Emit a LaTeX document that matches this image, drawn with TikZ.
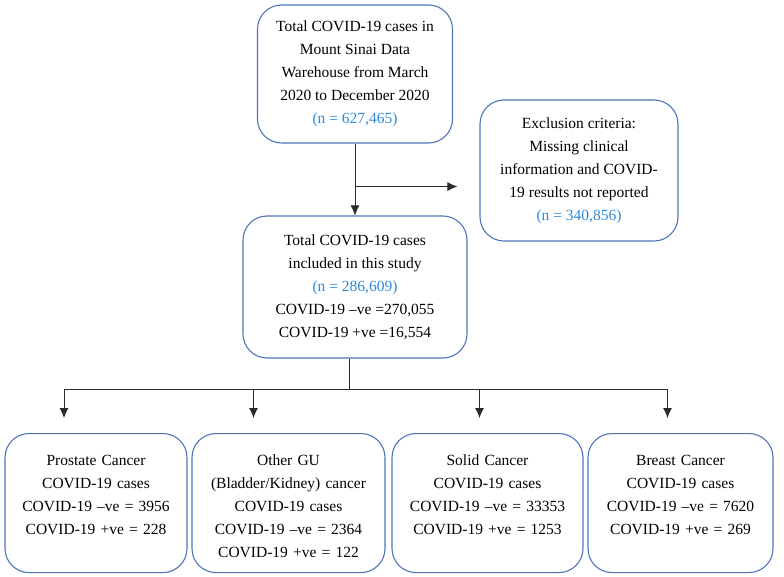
\documentclass[tikz,border=0pt]{standalone}
\usepackage{fontspec}
\setmainfont{Liberation Serif}
\usetikzlibrary{arrows.meta,positioning,calc}
\definecolor{boxblue}{HTML}{4F74B8}
\definecolor{nblue}{HTML}{2E8AD6}
\definecolor{dark}{HTML}{2A2A2A}
\tikzset{
  box/.style={draw=boxblue, rounded corners=24pt, line width=1.1pt, align=center, inner sep=4pt, font=\fontsize{15.5}{23}\selectfont},
  leafbox/.style={box, text height=22pt, text depth=97pt, inner ysep=10pt},
  line/.style={draw=dark, line width=0.9pt},
  arrow/.style={line, -{Latex[length=10pt, width=9pt]}}
}
\newcommand{\ncount}[1]{\textcolor{nblue}{(n = #1)}}

\begin{document}
\begin{tikzpicture}[x=1pt, y=-1pt]
  \useasboundingbox (0,0) rectangle (784,577);
  \node[box, minimum width=195pt, minimum height=138pt] (total) at (355,74) {Total COVID-19 cases in\\ Mount Sinai Data\\ Warehouse from March\\ 2020 to December 2020\\ \ncount{627,465}};
  \node[box, minimum width=198pt, minimum height=141pt] (excl) at (579,170.5) {Exclusion criteria:\\ Missing clinical\\ information and COVID-\\ 19 results not reported\\ \ncount{340,856}};
  \node[box, minimum width=224pt, minimum height=142pt] (study) at (355,287) {Total COVID-19 cases\\ included in this study\\ \ncount{286,609}\\ COVID-19 –ve =270,055\\ COVID-19 +ve =16,554};
  \node[leafbox, text width=174pt] (prostate) at (96,433) [anchor=north] {Prostate Cancer\\ COVID-19 cases\\ COVID-19 –ve = 3956\\ COVID-19 +ve = 228};
  \node[leafbox, text width=185pt] (othergu) at (288.5,433) [anchor=north] {Other GU\\ (Bladder/Kidney) cancer\\ COVID-19 cases\\ COVID-19 –ve = 2364\\ COVID-19 +ve = 122};
  \node[leafbox, text width=183pt] (solid) at (487.5,433) [anchor=north] {Solid Cancer\\ COVID-19 cases\\ COVID-19 –ve = 33353\\ COVID-19 +ve = 1253};
  \node[leafbox, text width=177pt] (breast) at (680.5,433) [anchor=north] {Breast Cancer\\ COVID-19 cases\\ COVID-19 –ve = 7620\\ COVID-19 +ve = 269};
  % top to study, with the exclusion branch
  \coordinate (branch) at ($(total.south)+(0,43)$);
  \draw[arrow] (total.south) -- (study.north);
  \draw[arrow, shorten >=22pt] (branch) -- (branch -| excl.west);
  % study to the four cancer groups
  \coordinate (split) at ($(study.south)+(-6,31)$);
  \coordinate (pr) at ([xshift=-32pt]prostate.north);
  \coordinate (gu) at ([xshift=-35pt]othergu.north);
  \coordinate (so) at ([xshift=-8pt]solid.north);
  \coordinate (br) at ([xshift=-13pt]breast.north);
  \draw[line] (split |- study.south) -- (split);
  \draw[line] (pr |- split) -- (br |- split);
  \draw[arrow, shorten >=15pt] (pr |- split) -- (pr);
  \draw[arrow, shorten >=15pt] (gu |- split) -- (gu);
  \draw[arrow, shorten >=15pt] (so |- split) -- (so);
  \draw[arrow, shorten >=15pt] (br |- split) -- (br);
\end{tikzpicture}
\end{document}
